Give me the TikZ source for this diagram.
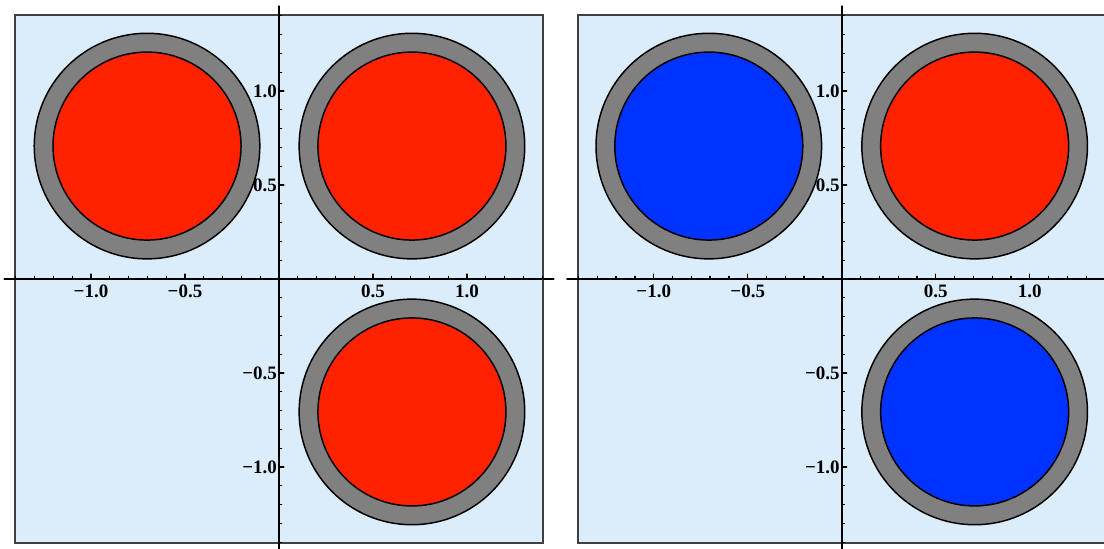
\documentclass[tikz,border=0pt]{standalone}
\usepackage{fontspec}
\setmainfont{Liberation Serif}
\usepackage{tikz}
\usepackage{xcolor}
\definecolor{bgblue}{RGB}{219,237,250}
\definecolor{spinred}{RGB}{255,34,0}
\definecolor{spinblue}{RGB}{0,51,255}
\definecolor{ringgray}{RGB}{128,128,128}

\begin{document}
\begin{tikzpicture}[x=4.7cm,y=4.7cm,line cap=round,
  font=\fontsize{13.5}{14}\selectfont\bfseries,
  panelframe/.style={fill=bgblue,draw=black!75,line width=1.4pt},
  ring/.style={fill=ringgray,draw=black,line width=1.05pt},
  dotred/.style={fill=spinred,draw=black,line width=1.05pt},
  dotblue/.style={fill=spinblue,draw=black,line width=1.05pt},
  axisline/.style={line width=1.75pt},
  tickmark/.style={line width=0.9pt},
  vlabel/.style={anchor=east,inner sep=0pt},
  hlabel/.style={anchor=north,inner sep=0pt}]
\clip (0,0) rectangle (5.872,2.915);
% left panel: all red
\begin{scope}[shift={(1.484,1.431)}]
\draw[panelframe] (-1.404,-1.404) rectangle (1.404,1.404);
\draw[ring] (-0.702,0.707) circle (0.6);
\draw[dotred] (-0.702,0.707) circle (0.5);
\draw[ring] (0.707,0.707) circle (0.6);
\draw[dotred] (0.707,0.707) circle (0.5);
\draw[ring] (0.707,-0.707) circle (0.6);
\draw[dotred] (0.707,-0.707) circle (0.5);
\draw[axisline] (-1.46,0) -- (1.46,0);
\draw[axisline] (0,-1.46) -- (0,1.45);
\foreach \i in {-14,...,-1,1,2,...,14} {
  \draw[tickmark] (\i/10,0) -- (\i/10,0.014);
  \draw[tickmark] (0,\i/10) -- (0.014,\i/10);
}
\foreach \i in {-2,-1,1,2} {
  \draw[tickmark] (\i/2,0) -- (\i/2,0.026);
  \draw[tickmark] (0,\i/2) -- (0.026,\i/2);
}
\node[hlabel] (lx1) at (-1.0,-0.03) {−1.0};
\node[hlabel] (lx2) at (-0.5,-0.03) {−0.5};
\node[hlabel] (lx3) at (0.5,-0.03) {0.5};
\node[hlabel] (lx4) at (1.0,-0.03) {1.0};
\node[vlabel] (ly1) at (-0.01,1.0) {1.0};
\node[vlabel] (ly2) at (-0.01,0.5) {0.5};
\node[vlabel] (ly3) at (-0.01,-0.5) {−0.5};
\node[vlabel] (ly4) at (-0.01,-1.0) {−1.0};
\end{scope}
% right panel: blue on the diagonal
\begin{scope}[shift={(4.477,1.431)}]
\draw[panelframe] (-1.404,-1.404) rectangle (1.404,1.404);
\draw[ring] (-0.707,0.707) circle (0.6);
\draw[dotblue] (-0.707,0.707) circle (0.5);
\draw[ring] (0.707,0.707) circle (0.6);
\draw[dotred] (0.707,0.707) circle (0.5);
\draw[ring] (0.707,-0.707) circle (0.6);
\draw[dotblue] (0.707,-0.707) circle (0.5);
\draw[axisline] (-1.46,0) -- (1.46,0);
\draw[axisline] (0,-1.46) -- (0,1.45);
\foreach \i in {-14,...,-1,1,2,...,14} {
  \draw[tickmark] (\i/10,0) -- (\i/10,0.014);
  \draw[tickmark] (0,\i/10) -- (0.014,\i/10);
}
\foreach \i in {-2,-1,1,2} {
  \draw[tickmark] (\i/2,0) -- (\i/2,0.026);
  \draw[tickmark] (0,\i/2) -- (0.026,\i/2);
}
\node[hlabel] (rx1) at (-1.0,-0.03) {−1.0};
\node[hlabel] (rx2) at (-0.5,-0.03) {−0.5};
\node[hlabel] (rx3) at (0.5,-0.03) {0.5};
\node[hlabel] (rx4) at (1.0,-0.03) {1.0};
\node[vlabel] (ry1) at (-0.01,1.0) {1.0};
\node[vlabel] (ry2) at (-0.01,0.5) {0.5};
\node[vlabel] (ry3) at (-0.01,-0.5) {−0.5};
\node[vlabel] (ry4) at (-0.01,-1.0) {−1.0};
\end{scope}
\end{tikzpicture}
\end{document}
